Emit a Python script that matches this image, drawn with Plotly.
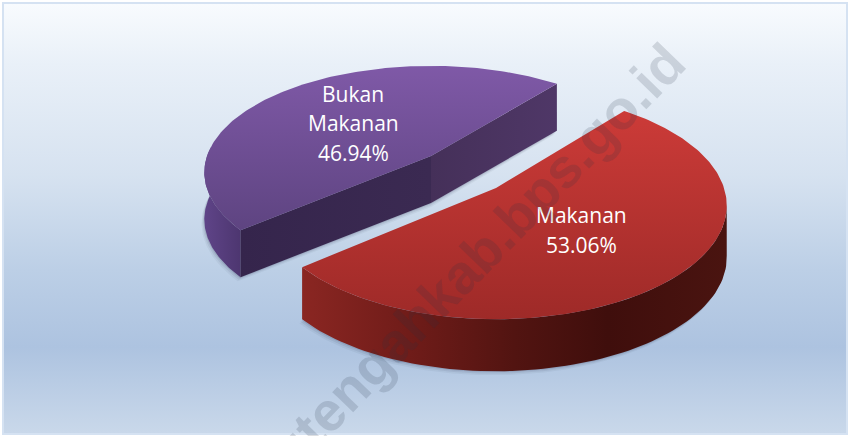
import numpy as np
import plotly.graph_objects as go

categories = ["Makanan", "Bukan Makanan"]
shares = [53.06, 46.94]
label_lines = [["Makanan", "53.06%"], ["Bukan", "Makanan", "46.94%"]]
watermark = "utengahkab.bps.go.id"

W, H = 849, 436
START_DEG = 51.0
PERSP = 0.154
RX = {"Makanan": 228.0, "Bukan Makanan": 224.0}
RY = {"Makanan": 111.0, "Bukan Makanan": 104.0}
APEX = {"Makanan": (496.0, 188.0), "Bukan Makanan": (431.0, 156.0)}
DEPTH = {"Makanan": 52.0, "Bukan Makanan": 47.0}


def project(name, deg):
    a = np.radians(np.asarray(deg, dtype=float))
    u, v = np.cos(a), np.sin(a)
    s = 1.0 / (1.0 + PERSP * v)
    ax, ay = APEX[name]
    return ax + RX[name] * u * s, ay - RY[name] * v * s


total = sum(shares)
sweep_red = shares[0] / total * 360.0
sweep_purple = shares[1] / total * 360.0
red_deg = np.linspace(START_DEG, START_DEG - sweep_red, 181)
purple_deg = np.linspace(START_DEG, START_DEG + sweep_purple, 181)

fig = go.Figure()


def poly(xs, ys, colors, kind="vertical", color=None):
    kw = dict(x=list(xs), y=list(ys), mode="lines", line=dict(width=0), fill="toself",
              hoverinfo="skip", showlegend=False)
    if color is not None:
        kw["fillcolor"] = color
    else:
        kw["fillgradient"] = dict(type=kind, colorscale=colors)
    fig.add_trace(go.Scatter(**kw))


def flip(stops):
    # fill gradients run along the data axis; the y axis here points down the page
    return [[1 - p, c] for p, c in reversed(stops)]


poly([4, 846, 846, 4], [4, 4, 433, 433],
     flip([[0, "#f8fbfe"], [0.14, "#e9f0f8"], [0.4, "#d6e2f0"], [0.62, "#bccfe6"],
           [0.8, "#adc3e0"], [1, "#c9d8ea"]]))


def arc_wall(name, d0, d1, colors):
    deg = np.linspace(d0, d1, 80)
    x, y = project(name, deg)
    d = DEPTH[name]
    poly(np.r_[x, x[::-1]], np.r_[y, (y + d)[::-1]], colors, "horizontal")


def cut_wall(name, deg, colors):
    ax, ay = APEX[name]
    x, y = project(name, deg)
    d = DEPTH[name]
    poly([ax, x, x, ax], [ay, y, y + d, ay + d], colors, "horizontal")


def shadow(name, deg):
    ax, ay = APEX[name]
    x, y = project(name, deg)
    d = DEPTH[name]
    for off, alpha in ((4, 0.06), (2.5, 0.09), (1, 0.14)):
        poly(np.r_[x - off * 0.7, ax], np.r_[y + d + off, ay + d + off], None,
             color=f"rgba(50,60,90,{alpha})")


shadow("Bukan Makanan", purple_deg)
arc_wall("Bukan Makanan", 175, START_DEG + sweep_purple,
         [[0, "#5f4488"], [1, "#4d3670"]])
cut_wall("Bukan Makanan", START_DEG, [[0, "#453059"], [1, "#4f3767"]])
cut_wall("Bukan Makanan", START_DEG + sweep_purple, [[0, "#35254c"], [1, "#3b2a52"]])
ax, ay = APEX["Bukan Makanan"]
x, y = project("Bukan Makanan", purple_deg)
poly(np.r_[ax, x, ax], np.r_[ay, y, ay], flip([[0, "#7f59a7"], [1, "#5e4481"]]))

shadow("Makanan", red_deg)
arc_wall("Makanan", START_DEG - sweep_red, -8,
         [[0, "#8a2622"], [0.25, "#701c19"], [0.5, "#521411"], [0.72, "#3f0e0c"], [1, "#4a1410"]])
ax, ay = APEX["Makanan"]
x, y = project("Makanan", red_deg)
poly(np.r_[ax, x, ax], np.r_[ay, y, ay], flip([[0, "#cc3b38"], [1, "#9e2a28"]]))


def label_annotations(lines, cx, ys):
    return [dict(x=cx, y=yy, xref="x", yref="y", text=t, showarrow=False,
                 font=dict(family="Open Sans", size=21, color="#ffffff"))
            for t, yy in zip(lines, ys)]


fig.update_layout(
    width=W, height=H, margin=dict(l=0, r=0, t=0, b=0),
    paper_bgcolor="#ffffff", plot_bgcolor="#ffffff", showlegend=False,
    xaxis=dict(range=[0, W], visible=False, fixedrange=True),
    yaxis=dict(range=[H, 0], visible=False, fixedrange=True),
    shapes=[dict(type="rect", xref="x", yref="y", x0=3, y0=3, x1=847, y1=434,
                 line=dict(color="#d5e2f2", width=2), fillcolor="rgba(0,0,0,0)")],
    annotations=label_annotations(label_lines[1], 353, [94, 123, 153])
    + label_annotations(label_lines[0], 581, [215, 245])
    + [dict(x=477, y=257, xref="x", yref="y", text=watermark, showarrow=False, textangle=-45.9,
            font=dict(family="Liberation Sans", size=55, color="rgba(40,50,70,0.16)", weight="bold"))],
)

fig.write_html("out.html", config={"displayModeBar": False},
               post_script="document.body.style.margin='0';document.body.style.overflow='hidden';")
